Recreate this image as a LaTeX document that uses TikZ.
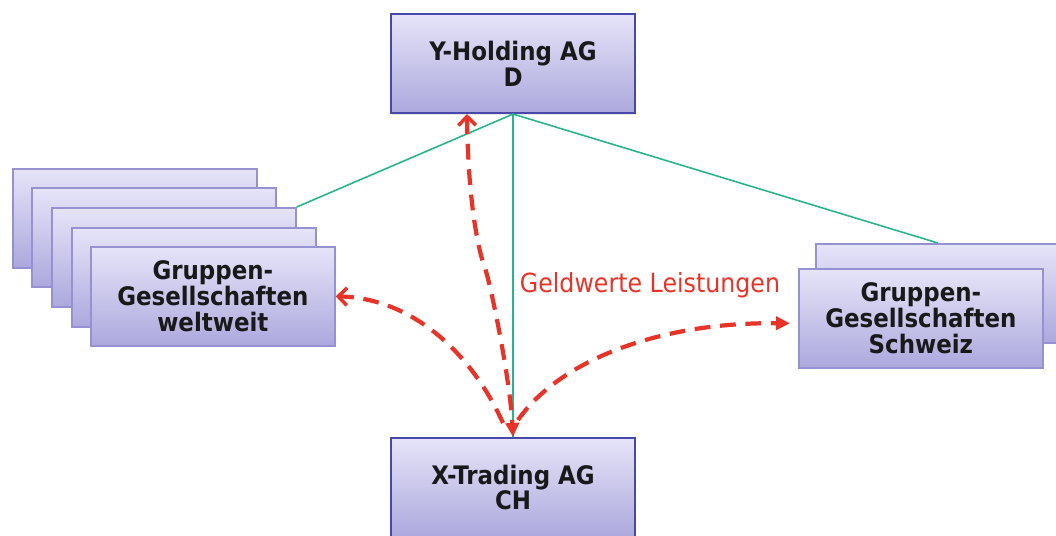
\documentclass[tikz,border=0pt]{standalone}
\usepackage{fontspec}
\setmainfont{DejaVu Sans}
\newfontfamily\boxfont[FakeStretch=0.9]{DejaVu Sans}
\usetikzlibrary{arrows.meta,shadows}
\definecolor{boxtop}{RGB}{230,228,248}
\definecolor{boxbot}{RGB}{172,168,221}
\definecolor{mainborder}{RGB}{72,72,170}
\definecolor{grpborder}{RGB}{150,146,210}
\definecolor{linkgreen}{RGB}{40,180,140}
\definecolor{flowred}{RGB}{232,52,40}
\begin{document}
\begin{tikzpicture}[x=0.02cm,y=-0.02cm,
  basebox/.style={anchor=north west, minimum width=4.88cm, minimum height=1.98cm,
    inner sep=0pt, top color=boxtop, bottom color=boxbot, align=center,
    font=\boxfont\bfseries\fontsize{14.5}{14.6}\selectfont, text=black!90,
    drop shadow={opacity=0.18,shadow xshift=0.6pt,shadow yshift=-0.9pt}},
  mainbox/.style={basebox, draw=mainborder, line width=1.2pt},
  grpbox/.style={basebox, draw=grpborder, line width=1pt},
  link/.style={draw=linkgreen, line width=0.9pt},
  flow/.style={draw=flowred, line width=2.4pt, dash pattern=on 9pt off 5.5pt},
  openhead/.tip={Straight Barb[length=5pt,width=10pt,line width=2pt]},
  solidhead/.tip={Triangle[length=8pt,width=7.5pt]},
  flowlabel/.style={font=\boxfont\fontsize{15}{18}\selectfont, text=flowred}
]
\clip (0,0) rectangle (1056,536);

% main boxes
\node[mainbox] (Y) at (390,13) {Y-Holding AG\\D};
\node[mainbox] (X) at (390,437) {X-Trading AG\\CH};

% left stack
\node[grpbox] (L1) at (12,168) {};
\node[grpbox] (L2) at (31,187) {};
\node[grpbox] (L3) at (51,207) {};
\node[grpbox] (L4) at (71,227) {};
\node[grpbox] (L5) at (90,246) {Gruppen-\\Gesellschaften\\weltweit};

% right stack
\node[grpbox] (R2) at (815,243) {};
\node[grpbox] (R1) at (798,268) {Gruppen-\\Gesellschaften\\Schweiz};

% ownership links
\draw[link] (Y.south) -- (L3.north east);
\draw[link] (Y.south) -- (R2.north);
\draw[link] (Y.south) -- (X.north);

% flows
\coordinate (ya) at ([xshift=-0.92cm]Y.south);
\coordinate (kink) at (485,268);
\coordinate (xl) at (503,423);
\coordinate (xr) at (518,420);
\coordinate (rt) at ([xshift=-0.16cm,yshift=-0.1cm]R1.west);

\draw[flow, openhead-solidhead] (ya) .. controls (468,200) and (478,250) .. (kink)
   .. controls (492,290) and (510,380) .. (X.north);
\draw[flow, -openhead] (xl) .. controls (470,350) and (410,298) .. (L5.east);
\draw[flow, -solidhead] (xr) .. controls (560,360) and (660,322) .. (rt);

\node[flowlabel] (lbl) at (650,285) {Geldwerte Leistungen};
\end{tikzpicture}
\end{document}
